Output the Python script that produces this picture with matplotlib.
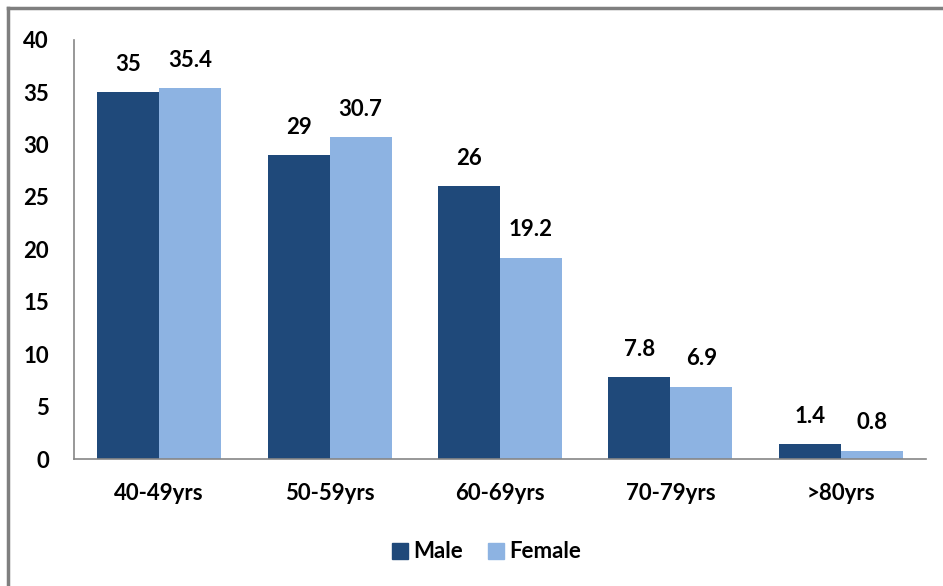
import matplotlib
matplotlib.use("Agg")
import matplotlib.pyplot as plt
import numpy as np
from matplotlib.lines import Line2D

categories = ["40-49yrs", "50-59yrs", "60-69yrs", "70-79yrs", ">80yrs"]
male = [35, 29, 26, 7.8, 1.4]
female = [35.4, 30.7, 19.2, 6.9, 0.8]
male_labels = ["35", "29", "26", "7.8", "1.4"]
female_labels = ["35.4", "30.7", "19.2", "6.9", "0.8"]
yticks = [0, 5, 10, 15, 20, 25, 30, 35, 40]

MALE_C = "#1F497A"
FEMALE_C = "#8DB3E2"
FONT = "Lato"
FS = 16

W, H = 943, 586
fig = plt.figure(figsize=(W / 100, H / 100), dpi=100)
ax = fig.add_axes([74 / W, 1 - 459 / H, (926 - 74) / W, (459 - 39.6) / H])

x = np.arange(len(categories))
bw = 0.364
b1 = ax.bar(x - bw / 2, male, bw, color=MALE_C, label="Male")
b2 = ax.bar(x + bw / 2, female, bw, color=FEMALE_C, label="Female")

for bars, labels in ((b1, male_labels), (b2, female_labels)):
    for rect, lab in zip(bars, labels):
        ax.annotate(lab, (rect.get_x() + rect.get_width() / 2, rect.get_height()),
                    xytext=(0, 20), textcoords="offset points",
                    ha="center", va="center", fontsize=FS, fontweight="bold",
                    family=FONT, color="black")

ax.set_xlim(-0.5, len(categories) - 0.5)
ax.set_ylim(0, 40)
ax.set_yticks(yticks)
ax.set_yticklabels([str(t) for t in yticks], family=FONT, fontsize=FS, fontweight="bold")
ax.set_xticks(x)
ax.set_xticklabels(categories, family=FONT, fontsize=FS, fontweight="bold")
ax.tick_params(axis="y", length=0, pad=18)
ax.tick_params(axis="x", length=0, pad=17)

for s in ("top", "right"):
    ax.spines[s].set_visible(False)
for s in ("left", "bottom"):
    ax.spines[s].set_color("#868686")
    ax.spines[s].set_linewidth(1.2)

handles = [Line2D([], [], marker="s", linestyle="none", markersize=12,
                  markerfacecolor=MALE_C, markeredgecolor=MALE_C),
           Line2D([], [], marker="s", linestyle="none", markersize=12,
                  markerfacecolor=FEMALE_C, markeredgecolor=FEMALE_C)]
fig.legend(handles, ["Male", "Female"], loc="center", bbox_to_anchor=(485 / W, 1 - 552 / H),
           ncol=2, frameon=False, prop={"family": FONT, "size": FS, "weight": "bold"},
           handletextpad=0.1, columnspacing=1.0, handlelength=1.0)

# outer frame (left and top edges)
fig.add_artist(Line2D([8 / W, 8 / W], [0, 1 - 8 / H], transform=fig.transFigure,
                      color="#7F7F7F", linewidth=2.5))
fig.add_artist(Line2D([8 / W, 1], [1 - 8 / H, 1 - 8 / H], transform=fig.transFigure,
                      color="#7F7F7F", linewidth=2.5))

fig.savefig("out.png", dpi=100)
